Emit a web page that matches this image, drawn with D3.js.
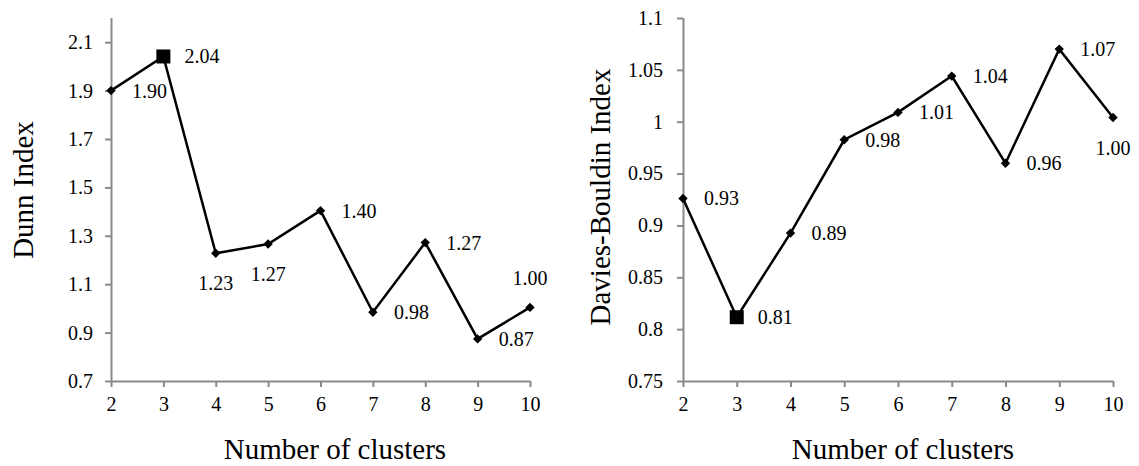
<!DOCTYPE html>
<html>
<head>
<meta charset="utf-8">
<script src="https://cdn.jsdelivr.net/npm/d3@7"></script>
<style>
  body { margin: 0; background: #fff; }
  svg text { font-family: 'Liberation Serif', 'Times New Roman', serif !important; fill: #000; }
</style>
</head>
<body>
<svg id="chart" width="1139" height="466" font-family="Liberation Serif, serif"></svg>
<script>
// data
const clusters = [2, 3, 4, 5, 6, 7, 8, 9, 10];
const dunnValues = [1.90, 2.041, 1.228, 1.266, 1.404, 0.984, 1.272, 0.874, 1.004];
const dbValues = [0.926, 0.8115, 0.8926, 0.9826, 1.009, 1.044, 0.960, 1.070, 1.004];
const dunnTicks = [0.7, 0.9, 1.1, 1.3, 1.5, 1.7, 1.9, 2.1];
const dbTicks = [0.75, 0.8, 0.85, 0.9, 0.95, 1, 1.05, 1.1];
const dunnBest = 3; // square marker
const dbBest = 3;
// where each value label sits
const dunnLabelSide = ['right', 'right', 'below', 'below', 'right', 'right', 'right', 'right', 'above'];
const dbLabelSide = ['right', 'right', 'right', 'right', 'right', 'right', 'right', 'right', 'below'];

const svg = d3.select('#chart');
const axisColor = '#8a8a8a';
const serif = "'Liberation Serif', 'Times New Roman', serif";

function drawPanel(opts) {
  const x = d3.scaleLinear().domain([2, 10]).range([opts.left, opts.right]);
  const y = d3.scaleLinear().domain(opts.yDomain).range([opts.bottom, opts.top]);

  const g = svg.append('g');

  // y axis
  const yAxis = g.append('g')
    .attr('transform', 'translate(' + opts.left + ',0)')
    .call(d3.axisLeft(y).tickValues(opts.ticks).tickSize(6).tickPadding(opts.yPad)
      .tickFormat(opts.fmt).tickSizeOuter(0));
  // x axis
  const xAxis = g.append('g')
    .attr('transform', 'translate(0,' + opts.bottom + ')')
    .call(d3.axisBottom(x).tickValues(clusters).tickSize(6).tickPadding(10)
      .tickFormat(d3.format('d')).tickSizeOuter(0));

  [yAxis, xAxis].forEach(a => {
    a.attr('font-family', serif).attr('font-size', 20);
    a.select('.domain').attr('stroke', axisColor).attr('stroke-width', 2);
    a.selectAll('.tick line').attr('stroke', axisColor).attr('stroke-width', 2);
    a.selectAll('.tick text').attr('fill', '#000');
  });
  // extend y axis line to top of range
  yAxis.select('.domain').attr('d', 'M0.5,' + opts.top + 'V' + opts.bottom);

  const pts = clusters.map((c, i) => ({ c, v: opts.values[i], side: opts.sides[i] }));

  const line = d3.line().x(d => x(d.c)).y(d => y(d.v));
  g.append('path')
    .datum(pts)
    .attr('d', line)
    .attr('fill', 'none')
    .attr('stroke', '#000')
    .attr('stroke-width', 2.5)
    .attr('stroke-linejoin', 'miter');

  // markers
  g.selectAll('.mk')
    .data(pts)
    .enter()
    .append('path')
    .attr('class', 'mk')
    .attr('d', d => d.c === opts.best
      ? d3.symbol(d3.symbolSquare, 196)()
      : d3.symbol(d3.symbolSquare, 44)())
    .attr('transform', d => 'translate(' + x(d.c) + ',' + y(d.v) + ')' +
      (d.c === opts.best ? '' : ' rotate(45)'))
    .attr('fill', '#000');

  // value labels
  g.selectAll('.lbl')
    .data(pts)
    .enter()
    .append('text')
    .attr('class', 'lbl')
    .attr('font-family', serif)
    .attr('font-size', 20)
    .attr('dy', '0.35em')
    .attr('x', d => d.side === 'right' ? x(d.c) + 21 : x(d.c))
    .attr('y', d => d.side === 'below' ? y(d.v) + 30 : d.side === 'above' ? y(d.v) - 29 : y(d.v))
    .attr('text-anchor', d => d.side === 'right' ? 'start' : 'middle')
    .text(d => d.v.toFixed(2));

  // axis titles
  svg.append('text')
    .attr('font-family', serif)
    .attr('font-size', 29)
    .attr('text-anchor', 'middle')
    .attr('x', opts.xTitleX)
    .attr('y', 459)
    .text('Number of clusters');
  svg.append('text')
    .attr('font-family', serif)
    .attr('font-size', 29)
    .attr('text-anchor', 'middle')
    .attr('transform', 'translate(' + opts.yTitleX + ',' + opts.yTitleY + ') rotate(-90)')
    .text(opts.yTitle);
}

drawPanel({
  left: 111, right: 530, top: 18, bottom: 381,
  yDomain: [0.7, 2.2], ticks: dunnTicks, fmt: d3.format('.1f'), yPad: 12,
  values: dunnValues, sides: dunnLabelSide, best: dunnBest,
  yTitle: 'Dunn Index', yTitleX: 33, yTitleY: 190, xTitleX: 335
});

drawPanel({
  left: 683, right: 1113, top: 18, bottom: 381,
  yDomain: [0.75, 1.1], ticks: dbTicks, fmt: d => String(+d.toFixed(2)), yPad: 14,
  values: dbValues, sides: dbLabelSide, best: dbBest,
  yTitle: 'Davies-Bouldin Index', yTitleX: 610, yTitleY: 197, xTitleX: 903
});
</script>
</body>
</html>
